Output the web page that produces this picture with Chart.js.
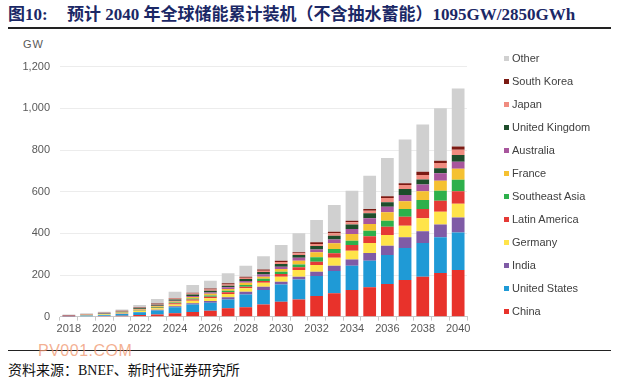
<!DOCTYPE html>
<html>
<head>
<meta charset="utf-8">
<script src="https://cdn.jsdelivr.net/npm/chart.js@4"></script>
<style>
  body { margin: 0; background: #fff; }
  #page { position: relative; width: 620px; height: 377px; overflow: hidden; background: #fff; }
  .title { position: absolute; top: 4px; font: bold 17px "Liberation Serif", "Noto Sans CJK SC", serif; color: #1b2866; white-space: nowrap; line-height: 22px; }
  .rule { position: absolute; left: 8px; width: 603px; background: #222; }
  #source { position: absolute; left: 8px; top: 359px; font: 14px "Liberation Serif", "Noto Sans CJK SC", serif; color: #111; white-space: nowrap; }
  #mark { position: absolute; left: 38px; top: 342px; font: 16px "Liberation Sans", sans-serif; color: rgba(240, 150, 110, 0.75); letter-spacing: 0.5px; }
  #unit { position: absolute; left: 23px; top: 38px; font: 11px "Liberation Sans", sans-serif; color: #595959; letter-spacing: 1px; }
  #wrap { position: absolute; left: 0; top: 30px; width: 620px; height: 310px; }
  #legend { position: absolute; left: 504px; top: 51px; font: 11px "Liberation Sans", sans-serif; color: #404040; }
  #legend div { height: 23px; line-height: 14px; white-space: nowrap; }
  #legend span.box { display: inline-block; width: 5px; height: 5px; margin-right: 3px; vertical-align: 1px; }
</style>
</head>
<body>
<div id="page">
  <div class="title" style="left:8px">图10:</div>
  <div class="title" style="left:67px">预计 2040 年全球储能累计装机（不含抽水蓄能）1095GW/2850GWh</div>
  <div class="rule" style="top:27px;height:2px"></div>
  <div id="unit">GW</div>
  <div id="wrap"><canvas id="chart"></canvas></div>
  <div id="legend"></div>
  <div class="rule" style="top:350px;height:1px"></div>
  <div id="mark">PV001.COM</div>
  <div id="source">资料来源：BNEF、新时代证券研究所</div>
</div>
<script>
// años 2018-2040, GW acumulados por región
const years = ['2018','2019','2020','2021','2022','2023','2024','2025','2026','2027','2028','2029',
  '2030','2031','2032','2033','2034','2035','2036','2037','2038','2039','2040'];

const china        = [1, 2, 3, 5, 8, 11, 17, 23, 29, 40, 45, 59, 72, 83, 99, 112, 128, 141, 157, 176, 192, 210, 224];
const unitedStates = [1.5, 3, 4, 8, 13, 19, 28, 35, 38, 43, 62, 69, 83, 96, 96, 107, 117, 128, 139, 154, 162, 171, 180];
const india        = [0.3, 0.5, 1, 1, 2, 3, 5, 6, 8, 10, 13, 16, 13, 13, 21, 26, 29, 37, 45, 51, 56, 61, 72];
const germany      = [1, 1.5, 2, 3, 5, 7, 9, 12, 13, 16, 16, 19, 24, 32, 32, 38, 43, 48, 51, 56, 62, 62, 66];
const latinAmerica = [0.3, 0.5, 1, 1, 2, 3, 5, 6, 8, 8, 8, 8, 13, 13, 16, 21, 27, 32, 40, 43, 45, 53, 60];
const southeastAsia= [0.3, 0.5, 1, 1, 2, 3, 4, 5, 6, 8, 8, 11, 11, 14, 21, 21, 21, 27, 29, 37, 43, 48, 55];
const france       = [0.5, 1, 1, 2, 3, 4, 5, 7, 8, 8, 11, 10, 13, 18, 24, 27, 32, 32, 40, 37, 42, 48, 53];
const australia    = [0.5, 1, 1, 1, 2, 3, 4, 5, 6, 8, 8, 11, 11, 14, 14, 19, 24, 27, 27, 30, 32, 35, 34];
const unitedKingdom= [1, 1, 2, 2, 3, 4, 6, 7, 8, 8, 10, 11, 13, 13, 16, 18, 21, 24, 21, 29, 24, 24, 32];
const japan        = [1, 1, 2, 2, 2, 3, 4, 5, 6, 6, 6, 6, 10, 8, 10, 11, 11, 13, 21, 19, 22, 26, 25];
const southKorea   = [1, 1, 1, 2, 2, 3, 3, 4, 5, 5, 5, 6, 6, 5, 8, 8, 8, 8, 8, 8, 16, 11, 16];
const other        = [2, 3, 5, 7, 12, 22, 30, 37, 37, 48, 53, 64, 75, 91, 107, 128, 144, 160, 184, 210, 226, 251, 278];

const seriesNames  = ['China','United States','India','Germany','Latin America','Southeast Asia',
  'France','Australia','United Kingdom','Japan','South Korea','Other'];
const seriesData   = [china, unitedStates, india, germany, latinAmerica, southeastAsia,
  france, australia, unitedKingdom, japan, southKorea, other];
const seriesColors = ['#e8322b','#1f9ad6','#7f5ba6','#ffe44a','#e53a36','#2db04b',
  '#f5c132','#a8569d','#1e4d2b','#f08c80','#7b1a13','#d0d0d0'];

const datasets = seriesNames.map((name, i) => ({
  label: name,
  data: seriesData[i],
  backgroundColor: seriesColors[i],
  borderWidth: 0,
  categoryPercentage: 1,
  barPercentage: 0.72
}));

const chart = new Chart(document.getElementById('chart'), {
  type: 'bar',
  data: { labels: years, datasets: datasets },
  options: {
    responsive: true,
    maintainAspectRatio: false,
    animation: false,
    layout: { padding: { left: 23, right: 153, top: 36.7, bottom: 0 } },
    plugins: { legend: { display: false }, tooltip: { enabled: false } },
    scales: {
      x: {
        stacked: true,
        grid: { display: true, drawOnChartArea: false, drawTicks: true, tickLength: 4, color: '#c8c8c8' },
        border: { color: '#c8c8c8' },
        ticks: {
          autoSkip: false, maxRotation: 0, padding: 2,
          color: '#595959', font: { family: 'Liberation Sans', size: 11 },
          callback: function (value, index) { return index % 2 === 0 ? this.getLabelForValue(value) : ''; }
        },
        afterFit: function (scale) { scale.height = 23.3; }
      },
      y: {
        stacked: true,
        min: 0, max: 1200,
        grid: { color: '#ececec', drawTicks: false },
        border: { display: false },
        ticks: { stepSize: 200, padding: 10, color: '#595959', font: { family: 'Liberation Sans', size: 11 } },
        afterFit: function (scale) { scale.width = 37; }
      }
    }
  }
});

// leyenda en HTML, en orden inverso (Other arriba)
const legend = document.getElementById('legend');
chart.data.datasets.slice().reverse().forEach(ds => {
  const row = document.createElement('div');
  const box = document.createElement('span');
  box.className = 'box';
  box.style.background = ds.backgroundColor;
  row.appendChild(box);
  row.appendChild(document.createTextNode(ds.label));
  legend.appendChild(row);
});
</script>
</body>
</html>
